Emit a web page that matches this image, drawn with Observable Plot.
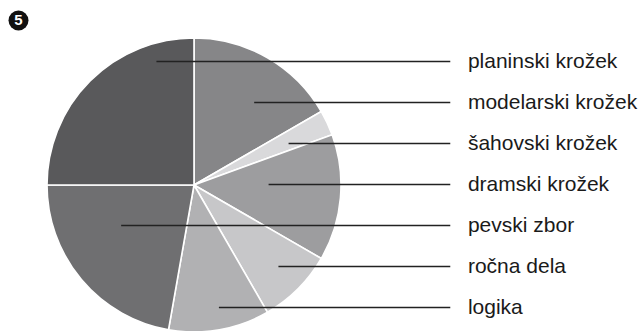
<!DOCTYPE html>
<html>
<head>
<meta charset="utf-8">
<script src="https://cdn.jsdelivr.net/npm/d3@7"></script>
<script src="https://cdn.jsdelivr.net/npm/@observablehq/plot@0.6"></script>
<style>
  html, body { margin: 0; padding: 0; background: #fff; }
  svg { display: block; }
</style>
</head>
<body>
<div id="chart"></div>
<script>
// Label (legend) order, top to bottom
const categories = ["planinski krožek", "modelarski krožek", "šahovski krožek", "dramski krožek", "pevski zbor", "ročna dela", "logika"];
const values = [9, 6, 1, 5, 8, 3, 4];
// Slice order, clockwise from 12 o'clock
const sliceOrder = ["modelarski krožek", "šahovski krožek", "dramski krožek", "ročna dela", "logika", "pevski zbor", "planinski krožek"];
const sliceColors = ["#59595b", "#868688", "#d9d9db", "#9d9d9f", "#6f6f71", "#c7c7c9", "#b1b1b3"];
const badge = ["5"];

const valueOf = new Map(categories.map((c, i) => [c, values[i]]));
const colorOf = d3.scaleOrdinal(categories, sliceColors);
const sliceData = sliceOrder.map(name => ({name, value: valueOf.get(name)}));
const arcs = d3.pie().sort(null).value(d => d.value)(sliceData);
const arcOf = new Map(arcs.map(a => [a.data.name, a]));

// Label rows in pie units (center 0,0, radius 1)
const labelTop = -0.844, labelBottom = 0.83;
const leaderEnd = 1.74, textX = 1.86;
const labelRows = categories.map((name, i) => {
  const y = labelTop + (labelBottom - labelTop) * i / (categories.length - 1);
  const a = arcOf.get(name);
  let lo = Infinity, hi = -Infinity;
  for (let k = 0; k <= 1000; k++) {
    const x = -1 + 2 * k / 1000;
    if (x * x + y * y > 0.98) continue;
    let t = Math.atan2(x, -y);
    if (t < 0) t += 2 * Math.PI;
    if (t >= a.startAngle && t <= a.endAngle) { lo = Math.min(lo, x); hi = Math.max(hi, x); }
  }
  return {name, y, x1: (lo + hi) / 2, x2: leaderEnd, tx: textX};
});

const pieMark = (index, scales) => {
  const cx = scales.x(0), cy = scales.y(0), r = scales.x(1) - cx;
  const g = d3.create("svg:g").attr("transform", `translate(${cx},${cy})`);
  g.selectAll("path").data(arcs).join("path")
    .attr("d", d3.arc().innerRadius(0).outerRadius(r))
    .attr("fill", d => colorOf(d.data.name))
    .attr("stroke", "#fff")
    .attr("stroke-width", 1.6)
    .attr("stroke-linejoin", "round");
  return g.node();
};

const chart = Plot.plot({
  width: 641,
  height: 331,
  margin: 0,
  style: {fontFamily: "'Liberation Sans', Arial, sans-serif", background: "#fff"},
  x: {domain: [-1, 1], range: [47, 341], axis: null},
  y: {domain: [-1, 1], range: [38, 332], axis: null},
  marks: [
    pieMark,
    Plot.link(labelRows, {x1: "x1", y1: "y", x2: "x2", y2: "y", stroke: "#222", strokeWidth: 1.5}),
    Plot.text(labelRows, {x: "tx", y: "y", text: "name", textAnchor: "start", lineAnchor: "middle", fontSize: 21, fill: "#1a1a1a"}),
    Plot.dot(badge, {frameAnchor: "top-left", dx: 18, dy: 20, r: 10, fill: "#111"}),
    Plot.text(badge, {frameAnchor: "top-left", dx: 18, dy: 20, text: d => d, textAnchor: "middle", lineAnchor: "middle", fill: "#fff", fontWeight: "bold", fontSize: 15})
  ]
});
document.getElementById("chart").append(chart);
</script>
</body>
</html>
